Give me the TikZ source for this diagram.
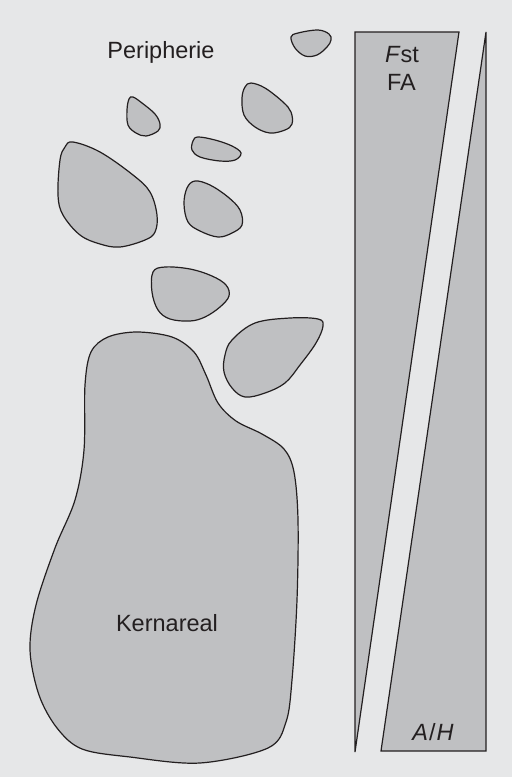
\documentclass[tikz,border=0pt]{standalone}
\usepackage{fontspec}
\setmainfont{Liberation Sans}
\definecolor{bgc}{HTML}{E6E7E8}
\definecolor{blobc}{HTML}{BFC0C2}
\definecolor{linec}{HTML}{231F20}
\begin{document}
\begin{tikzpicture}[x=1pt,y=-1pt,
  blob/.style={fill=blobc,draw=linec,line width=1.2pt},
  wedge/.style={fill=blobc,draw=linec,line width=1.2pt,line join=miter},
  lbl/.style={font=\fontsize{23.5}{27}\selectfont,text=linec,inner sep=0pt,anchor=base}]
\useasboundingbox (0,0) rectangle (512,777);
\fill[bgc] (0,0) rectangle (512,777);
% wedges
\draw[wedge] (355,32) coordinate (w1a) -- (459,32) coordinate (w1b) -- (355,752) coordinate (w1c) -- cycle;
\draw[wedge] (486,32) coordinate (w2a) -- (486,751) coordinate (w2b) -- (381,751) coordinate (w2c) -- cycle;
% blobs
\draw[blob] plot[smooth cycle,tension=0.6] coordinates {(291,37) (298,33) (318,30) (329,34) (331,40) (327,47) (317,55) (305,56) (295,48)};
\draw[blob] plot[smooth cycle,tension=0.6] coordinates {(133,97) (142,103) (155,114) (160,124) (158,131) (146,136) (136,133) (128,125) (127,110) (129,99)};
\draw[blob] plot[smooth cycle,tension=0.6] coordinates {(251,83) (265,88) (283,102) (291,112) (292,124) (285,130) (270,133) (255,127) (244,115) (242,98) (245,87)};
\draw[blob] plot[smooth cycle,tension=0.6] coordinates {(198,137) (215,140) (232,146) (241,153) (235,160) (220,161) (200,157) (192,150) (193,141)};
\draw[blob] plot[smooth cycle,tension=0.6] coordinates {(73,142) (100,152) (133,175) (150,192) (157,215) (155,232) (145,240) (120,247) (100,244) (80,235) (63,215) (58,195) (60,160) (65,147)};
\draw[blob] plot[smooth cycle,tension=0.6] coordinates {(195,181) (210,185) (228,197) (240,210) (242,225) (232,233) (218,237) (200,231) (188,222) (184,204) (187,188)};
\draw[blob] plot[smooth cycle,tension=0.6] coordinates {(153,272) (165,267) (190,269) (212,276) (226,285) (229,296) (220,307) (205,317) (190,321) (170,319) (158,310) (152,292)};
\draw[blob] plot[smooth cycle,tension=0.6] coordinates {(232,340) (255,323) (290,318) (318,319) (323,326) (316,343) (300,365) (285,383) (265,393) (245,397) (232,388) (224,372) (225,355)};
% Kernareal
\draw[blob] plot[smooth cycle,tension=0.55] coordinates {(137,332) (172,337) (194,352) (206,375) (218,403) (236,421) (262,434) (284,449) (294,472) (298,520) (297,600) (292,680) (286,722) (268,748) (200,763) (130,757) (82,749) (57,728) (39,695) (30,650) (36,605) (55,548) (75,500) (84,450) (85,385) (91,352) (108,337)};
% labels
\node[lbl] (peri) at (161,58) {Peripherie};
\node[lbl] (kern) at (167,631) {Kernareal};
\node[lbl] (fst) at (402,62.7) {\textit{F}st};
\node[lbl] (fa) at (401.5,90) {FA};
\node[lbl] (ah) at (433,740) {\textit{A}\kern1pt/\kern1pt\textit{H}};
\end{tikzpicture}
\end{document}
